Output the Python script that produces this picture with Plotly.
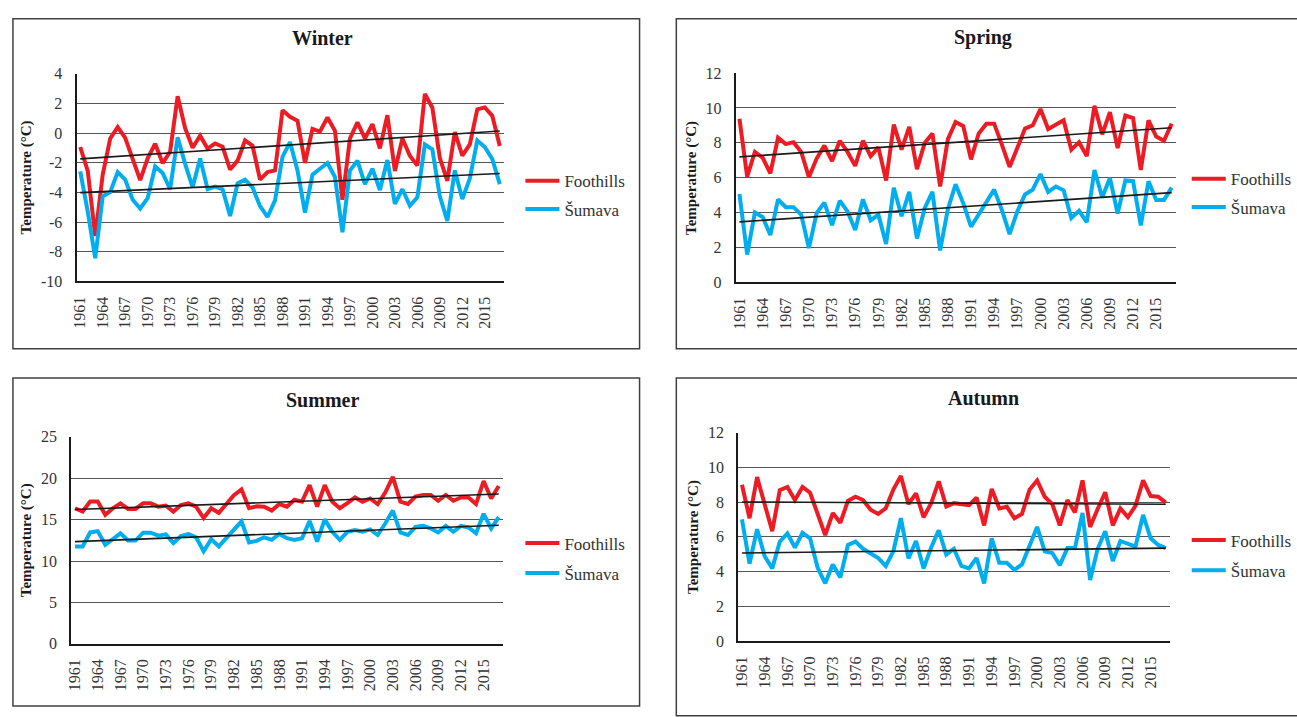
import numpy as np
import plotly.graph_objects as go

years = list(range(1961, 2018))
tick_years = list(range(1961, 2018, 3))

winter_foothills = [-0.94, -2.56, -6.95, -2.8, -0.37, 0.4, -0.33, -1.86, -3.18, -1.7,
                    -0.72, -2.04, -1.25, 2.48, 0.33, -0.99, -0.18, -1.05, -0.7, -0.92,
                    -2.46, -1.86, -0.5, -0.86, -3.14, -2.63, -2.52, 1.53, 1.1, 0.83,
                    -2.02, 0.28, 0.1, 1.05, 0.15, -4.5, -0.37, 0.72, -0.37, 0.6,
                    -1.03, 1.2, -2.56, -0.37, -1.53, -2.2, 2.63, 1.71, -1.69, -3.22,
                    0.07, -1.53, -0.77, 1.6, 1.73, 1.16, -0.88]
winter_sumava = [-2.59, -5.3, -8.44, -4.27, -3.99, -2.63, -3.14, -4.5, -5.09, -4.39,
                 -2.26, -2.7, -3.79, -0.29, -2.08, -3.66, -1.71, -3.79, -3.62, -3.79,
                 -5.59, -3.4, -3.14, -3.66, -4.93, -5.66, -4.54, -1.6, -0.61, -2.52,
                 -5.37, -2.81, -2.41, -2.02, -2.96, -6.69, -2.52, -1.86, -3.44, -2.41,
                 -3.84, -1.82, -4.78, -3.79, -4.89, -4.34, -0.77, -1.1, -4.27, -5.92,
                 -2.52, -4.45, -3.07, -0.5, -0.94, -1.75, -3.44]

spring_foothills = [9.38, 6.06, 7.48, 7.15, 6.25, 8.3, 7.93, 8.04, 7.48, 6.03,
                    7.1, 7.84, 6.96, 8.12, 7.48, 6.68, 8.12, 7.24, 7.74, 5.84,
                    9.05, 7.61, 8.92, 6.49, 7.99, 8.54, 5.5, 8.2, 9.2, 8.96,
                    7.05, 8.54, 9.1, 9.1, 7.9, 6.62, 7.7, 8.82, 9.01, 9.94,
                    8.79, 9.05, 9.29, 7.61, 8.04, 7.24, 10.13, 8.49, 9.76, 7.7,
                    9.57, 9.42, 6.44, 9.29, 8.36, 8.12, 9.1]
spring_sumava = [5.06, 1.59, 4.01, 3.75, 2.71, 4.76, 4.31, 4.31, 3.88, 1.96,
                 3.97, 4.57, 3.28, 4.68, 4.07, 3.0, 4.76, 3.56, 3.88, 2.2,
                 5.43, 3.79, 5.19, 2.52, 4.25, 5.19, 1.83, 4.2, 5.62, 4.53,
                 3.19, 3.88, 4.63, 5.32, 4.16, 2.76, 4.07, 5.04, 5.32, 6.21,
                 5.19, 5.5, 5.28, 3.69, 4.1, 3.45, 6.44, 4.87, 5.99, 3.94,
                 5.84, 5.8, 3.26, 5.8, 4.72, 4.72, 5.43]

summer_foothills = [16.38, 15.98, 17.2, 17.2, 15.59, 16.38, 16.97, 16.3, 16.3, 16.97,
                    16.97, 16.57, 16.69, 15.98, 16.77, 16.97, 16.57, 15.2, 16.38, 15.83,
                    16.89, 17.95, 18.66, 16.38, 16.61, 16.57, 16.1, 16.89, 16.57, 17.4,
                    17.17, 19.17, 16.57, 19.17, 17.17, 16.38, 17.0, 17.68, 17.17, 17.56,
                    16.89, 18.27, 20.16, 17.17, 16.89, 17.8, 17.99, 17.99, 17.28, 17.99,
                    17.28, 17.68, 17.68, 16.89, 19.65, 17.56, 19.06]
summer_sumava = [11.77, 11.77, 13.46, 13.62, 11.97, 12.64, 13.35, 12.48, 12.48, 13.43,
                 13.43, 13.07, 13.23, 12.17, 13.03, 13.27, 12.87, 11.18, 12.64, 11.77,
                 12.83, 13.86, 14.8, 12.24, 12.44, 12.87, 12.56, 13.27, 12.76, 12.56,
                 12.76, 14.84, 12.36, 15.04, 13.54, 12.56, 13.54, 13.74, 13.54, 13.82,
                 13.15, 14.53, 16.1, 13.46, 13.15, 14.13, 14.25, 13.94, 13.46, 14.25,
                 13.54, 14.25, 14.06, 13.35, 15.71, 13.94, 15.31]

autumn_foothills = [9.0, 7.07, 9.44, 7.94, 6.32, 8.69, 8.87, 8.12, 8.87, 8.54,
                    7.37, 6.1, 7.37, 6.81, 8.07, 8.31, 8.12, 7.56, 7.32, 7.64,
                    8.72, 9.51, 7.88, 8.5, 7.13, 7.94, 9.19, 7.75, 7.94, 7.88,
                    7.82, 8.26, 6.66, 8.76, 7.64, 7.73, 7.07, 7.32, 8.72, 9.25,
                    8.31, 7.88, 6.66, 8.12, 7.41, 9.25, 6.57, 7.6, 8.57, 6.66,
                    7.64, 7.13, 7.79, 9.25, 8.35, 8.31, 7.97]
autumn_sumava = [7.0, 4.45, 6.44, 4.88, 4.18, 5.72, 6.19, 5.38, 6.23, 5.91,
                 4.22, 3.32, 4.41, 3.66, 5.53, 5.72, 5.31, 5.07, 4.78, 4.32,
                 5.16, 7.07, 4.75, 5.76, 4.18, 5.38, 6.38, 4.97, 5.31, 4.32,
                 4.18, 4.78, 3.32, 5.91, 4.5, 4.5, 4.09, 4.41, 5.44, 6.57,
                 5.16, 5.07, 4.37, 5.35, 5.35, 7.37, 3.51, 5.31, 6.32, 4.6,
                 5.76, 5.57, 5.44, 7.26, 5.91, 5.53, 5.35]

winter_yticks = [-10, -8, -6, -4, -2, 0, 2, 4]
spring_yticks = [0, 2, 4, 6, 8, 10, 12]
summer_yticks = [0, 5, 10, 15, 20, 25]
autumn_yticks = [0, 2, 4, 6, 8, 10, 12]

titles = ["Winter", "Spring", "Summer", "Autumn"]
series_names = ["Foothills", "Šumava"]

W, H = 1297, 717
RED = "#ED1C24"
BLUE = "#00AEEF"
FONT = "Liberation Serif, Times New Roman, DejaVu Serif, serif"

def px(x):
    return x / W

def py(y):
    return 1 - y / H

panels = [
    dict(title="Winter", data=(winter_foothills, winter_sumava), yt=winter_yticks,
         plot=(72, 502, 67.3, 280), box=(8, 639, 11, 349), tx=320, ty=31, ytx=22,
         leg=(519, 159), gap=3),
    dict(title="Spring", data=(spring_foothills, spring_sumava), yt=spring_yticks,
         plot=(735.7, 1178.7, 66.7, 281), box=(676, 1310, 11, 349), tx=985, ty=30, ytx=692,
         leg=(1190, 157), gap=3),
    dict(title="Summer", data=(summer_foothills, summer_sumava), yt=summer_yticks,
         plot=(66.7, 501, 439.3, 651.3), box=(8, 639, 379, 715), tx=320, ty=402, ytx=22,
         leg=(519, 530), gap=5),
    dict(title="Autumn", data=(autumn_foothills, autumn_sumava), yt=autumn_yticks,
         plot=(738.3, 1172.7, 435, 648.3), box=(676, 1310, 379, 725), tx=985, ty=399, ytx=694,
         leg=(1190, 527), gap=5),
]

fig = go.Figure()
shapes = []
annotations = []
layout_axes = {}

for i, p in enumerate(panels):
    n = i + 1
    xa = "x" if n == 1 else f"x{n}"
    ya = "y" if n == 1 else f"y{n}"
    legname = "legend" if n == 1 else f"legend{n}"
    x0, x1, y0, y1 = p["plot"]
    for k, (vals, col) in enumerate(zip(p["data"], [RED, BLUE])):
        fig.add_trace(go.Scatter(
            x=years, y=vals, mode="lines", name=series_names[k],
            line=dict(color=col, width=4), xaxis=xa, yaxis=ya,
            legend=legname, legendgroup=f"g{n}{k}", showlegend=True,
        ))
    for vals in p["data"]:
        coef = np.polyfit(years, vals, 1)
        fit = np.polyval(coef, [years[0], years[-1]])
        fig.add_trace(go.Scatter(
            x=[years[0], years[-1]], y=list(fit), mode="lines",
            line=dict(color="#1a1a1a", width=1.6), xaxis=xa, yaxis=ya,
            showlegend=False, hoverinfo="skip",
        ))
    xkey = "xaxis" if n == 1 else f"xaxis{n}"
    ykey = "yaxis" if n == 1 else f"yaxis{n}"
    layout_axes[xkey] = dict(
        domain=[px(x0), px(x1)], anchor=ya, range=[1960.5, 2017.5],
        tickmode="array", tickvals=tick_years, ticktext=[str(t) for t in tick_years],
        tickangle=-90, showgrid=False, zeroline=False, showline=True,
        linecolor="#1a1a1a", linewidth=2.2, ticks="", ticklabelstandoff=7,
        tickfont=dict(family=FONT, size=16, color="#333333"),
    )
    yt = p["yt"]
    layout_axes[ykey] = dict(
        domain=[py(y1), py(y0)], anchor=xa, range=[yt[0], yt[-1]],
        tickmode="array", tickvals=yt, ticktext=[str(v) for v in yt],
        showgrid=True, gridcolor="#555555", gridwidth=1.3, zeroline=False,
        showline=True, linecolor="#1a1a1a", linewidth=2, ticks="", ticklabelstandoff=9,
        tickfont=dict(family=FONT, size=16, color="#333333"),
    )
    bx0, bx1, by0, by1 = p["box"]
    shapes.append(dict(type="rect", xref="paper", yref="paper",
                       x0=px(bx0), x1=px(bx1), y0=py(by1), y1=py(by0),
                       line=dict(color="#404040", width=1.5), layer="below"))
    annotations.append(dict(text=f"<b>{p['title']}</b>", xref="paper", yref="paper",
                            x=px(p["tx"]), y=py(p["ty"]), showarrow=False,
                            xanchor="center", yanchor="middle",
                            font=dict(family=FONT, size=20, color="#1a1a1a")))
    annotations.append(dict(text="<b>Temperature (°C)</b>", xref="paper", yref="paper",
                            x=px(p["ytx"]), y=py((y0 + y1) / 2), showarrow=False,
                            textangle=-90, xanchor="center", yanchor="middle",
                            font=dict(family=FONT, size=15, color="#1a1a1a")))
    lx, ly = p["leg"]
    layout_axes[legname] = dict(
        x=px(lx), y=py(ly), xanchor="left", yanchor="top",
        font=dict(family=FONT, size=17, color="#333333"),
        bgcolor="rgba(0,0,0,0)", borderwidth=0, tracegroupgap=p["gap"],
        traceorder="grouped", itemwidth=34,
    )

fig.update_layout(
    width=W, height=H, margin=dict(l=0, r=0, t=0, b=0),
    paper_bgcolor="white", plot_bgcolor="white",
    shapes=shapes, annotations=annotations, **layout_axes,
)

fig.write_html("out.html")
